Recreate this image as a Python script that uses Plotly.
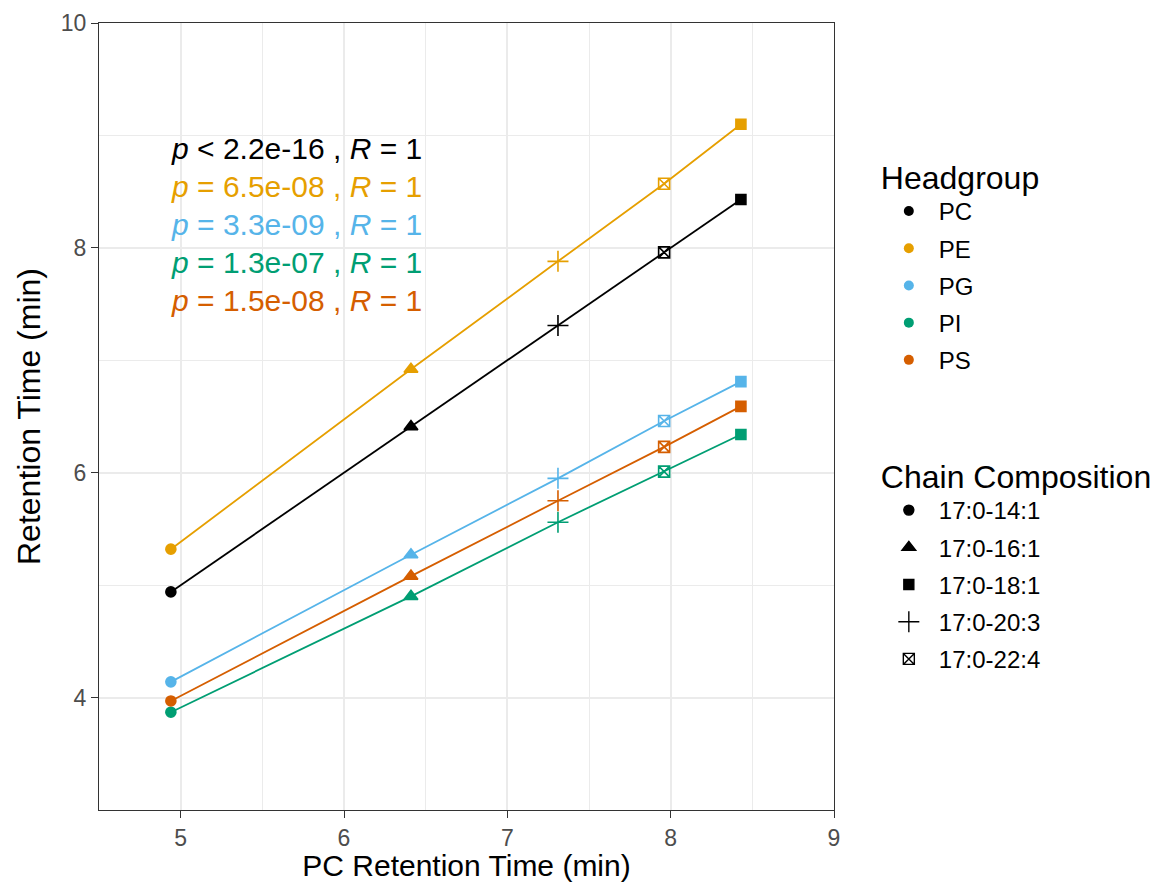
import plotly.graph_objects as go

# ---- data ----
pc_rt = [4.94, 6.41, 7.31, 7.96, 8.43]
point_chain = ["17:0-14:1", "17:0-16:1", "17:0-20:3", "17:0-22:4", "17:0-18:1"]
chains = ["17:0-14:1", "17:0-16:1", "17:0-18:1", "17:0-20:3", "17:0-22:4"]
headgroups = ["PC", "PE", "PG", "PI", "PS"]
rt_PC = [4.94, 6.41, 7.31, 7.96, 8.43]
rt_PE = [5.32, 6.92, 7.88, 8.57, 9.10]
rt_PG = [4.14, 5.27, 5.95, 6.46, 6.81]
rt_PI = [3.87, 4.90, 5.56, 6.01, 6.34]
rt_PS = [3.97, 5.08, 5.75, 6.23, 6.59]
stat_labels = [
    "<i>p</i> &lt; 2.2e-16 , <i>R</i> = 1",
    "<i>p</i> = 6.5e-08 , <i>R</i> = 1",
    "<i>p</i> = 3.3e-09 , <i>R</i> = 1",
    "<i>p</i> = 1.3e-07 , <i>R</i> = 1",
    "<i>p</i> = 1.5e-08 , <i>R</i> = 1",
]
label_y = [8.88, 8.55, 8.21, 7.87, 7.53]

# ---- styles ----
colors = {"PC": "#000000", "PE": "#E69F00", "PG": "#56B4E9", "PI": "#009E73", "PS": "#D55E00"}
chain_symbol = {"17:0-14:1": "circle", "17:0-16:1": "triangle-up", "17:0-18:1": "square",
                "17:0-20:3": "cross-thin-open", "17:0-22:4": "square-x-open"}
chain_size = {"17:0-14:1": 10, "17:0-16:1": 12, "17:0-18:1": 10,
              "17:0-20:3": 15, "17:0-22:4": 11}
series = {"PC": rt_PC, "PE": rt_PE, "PG": rt_PG, "PI": rt_PI, "PS": rt_PS}

FONT = "Liberation Sans, Arial, Helvetica, sans-serif"

fig = go.Figure()

pt_symbols = [chain_symbol[c] for c in point_chain]
pt_sizes = [chain_size[c] for c in point_chain]

for hg in headgroups:
    c = colors[hg]
    fig.add_trace(go.Scatter(
        x=pc_rt, y=series[hg], mode="lines+markers",
        line=dict(color=c, width=1.8),
        marker=dict(symbol=pt_symbols, size=pt_sizes, color=c, opacity=1,
                    line=dict(color=c, width=1.6)),
        opacity=1,
        showlegend=False, hoverinfo="x+y",
    ))

# legend: Headgroup
for hg in headgroups:
    fig.add_trace(go.Scatter(
        x=[None], y=[None], mode="markers", name=hg,
        marker=dict(symbol="circle", size=10, color=colors[hg], opacity=1),
        legend="legend", legendgroup="h" + hg,
    ))

# legend: Chain composition
for ch in chains:
    fig.add_trace(go.Scatter(
        x=[None], y=[None], mode="markers", name=ch,
        marker=dict(symbol=chain_symbol[ch], size=chain_size[ch], color="black", opacity=1,
                    line=dict(color="black", width=1.4)),
        legend="legend2", legendgroup="c" + ch,
    ))

for txt, yv, hg in zip(stat_labels, label_y, headgroups):
    fig.add_annotation(
        x=4.93, y=yv, xref="x", yref="y", text=txt, showarrow=False,
        xanchor="left", yanchor="middle",
        font=dict(family=FONT, size=30, color=colors[hg]),
    )

axis_common = dict(
    showline=True, mirror=True, linecolor="#333333", linewidth=1.2,
    ticks="outside", ticklen=7, tickwidth=1.2, tickcolor="#333333",
    tickfont=dict(family=FONT, size=23, color="#4D4D4D"),
    showgrid=True, gridcolor="#EBEBEB", gridwidth=2,
    zeroline=False, automargin=False,
)

fig.update_xaxes(
    range=[4.5, 9], tickvals=[5, 6, 7, 8, 9],
    minor=dict(tickvals=[4.5, 5.5, 6.5, 7.5, 8.5], showgrid=True, gridcolor="#EBEBEB", gridwidth=1, ticks=""),
    title=dict(text="PC Retention Time (min)", font=dict(family=FONT, size=30, color="black"), standoff=17),
    **axis_common,
)
fig.update_yaxes(
    range=[3, 10], tickvals=[4, 6, 8, 10],
    minor=dict(tickvals=[3, 5, 7, 9], showgrid=True, gridcolor="#EBEBEB", gridwidth=1, ticks=""),
    title=dict(text="Retention Time (min)", font=dict(family=FONT, size=32, color="black"), standoff=10),
    **axis_common,
)

legend_common = dict(
    xref="paper", yref="paper", xanchor="left", yanchor="top",
    bgcolor="rgba(0,0,0,0)", itemwidth=50, traceorder="grouped", tracegroupgap=3,
    font=dict(family=FONT, size=24, color="black"),
)
fig.update_layout(
    width=1154, height=874,
    margin=dict(l=91, r=328, t=15, b=72, autoexpand=False),
    paper_bgcolor="white", plot_bgcolor="white",
    legend=dict(x=1.061, y=0.842,
                title=dict(text="Headgroup", font=dict(family=FONT, size=32, color="black")),
                **legend_common),
    legend2=dict(x=1.061, y=0.462,
                 title=dict(text="Chain Composition", font=dict(family=FONT, size=32, color="black")),
                 **legend_common),
    showlegend=True,
)

fig.write_html("out.html")
